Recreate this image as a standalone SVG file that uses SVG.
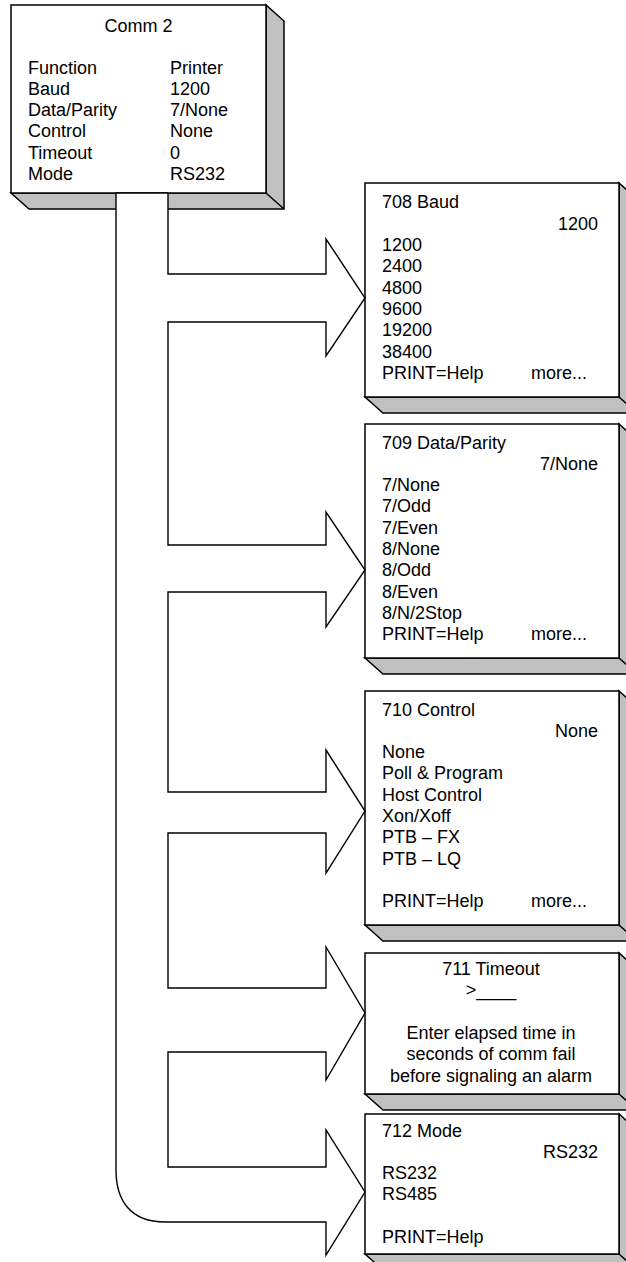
<svg xmlns="http://www.w3.org/2000/svg" width="626" height="1262" viewBox="0 0 626 1262">
<style>
.face{fill:#fff;stroke:#000;stroke-width:1.5}
.shade{fill:#c0c0c0;stroke:#000;stroke-width:1.5;stroke-linejoin:miter}
.edge{stroke:#000;stroke-width:1.5;fill:none}
.conn{fill:#fff;stroke:#000;stroke-width:1.4;stroke-linejoin:miter}
text{font-family:"Liberation Sans",Arial,Helvetica,sans-serif;font-size:18px;fill:#000}
.r{text-anchor:end}
.c{text-anchor:middle}
</style>
<g id="comm2">
<polygon class="shade" points="11,193 266,193 266,5 284,21 284,209 29,209"/>
<line class="edge" x1="266" y1="193" x2="284" y2="209"/>
<rect class="face" x="11" y="5" width="255" height="188"/>
<text class="c" x="138.5" y="31.5">Comm 2</text>
<text x="28" y="73.5">Function</text><text x="170" y="73.5">Printer</text>
<text x="28" y="94.8">Baud</text><text x="170" y="94.8">1200</text>
<text x="28" y="116.1">Data/Parity</text><text x="170" y="116.1">7/None</text>
<text x="28" y="137.4">Control</text><text x="170" y="137.4">None</text>
<text x="28" y="158.7">Timeout</text><text x="170" y="158.7">0</text>
<text x="28" y="180">Mode</text><text x="170" y="180">RS232</text>
</g>
<g id="baud708">
<polygon class="shade" points="365,397 619,397 619,183 637,199 637,413 383,413"/>
<line class="edge" x1="619" y1="397" x2="637" y2="413"/>
<rect class="face" x="365" y="183" width="254" height="214"/>
<text x="382" y="208">708 Baud</text>
<text class="r" x="598" y="229.5">1200</text>
<text x="382" y="251">1200</text>
<text x="382" y="272.3">2400</text>
<text x="382" y="293.6">4800</text>
<text x="382" y="314.9">9600</text>
<text x="382" y="336.2">19200</text>
<text x="382" y="357.5">38400</text>
<text x="382" y="378.8">PRINT=Help</text><text x="531" y="378.8">more...</text>
</g>
<g id="parity709">
<polygon class="shade" points="365,658 619,658 619,424 637,440 637,674 383,674"/>
<line class="edge" x1="619" y1="658" x2="637" y2="674"/>
<rect class="face" x="365" y="424" width="254" height="234"/>
<text x="382" y="448.5">709 Data/Parity</text>
<text class="r" x="598" y="469.8">7/None</text>
<text x="382" y="491.1">7/None</text>
<text x="382" y="512.4">7/Odd</text>
<text x="382" y="533.7">7/Even</text>
<text x="382" y="555">8/None</text>
<text x="382" y="576.3">8/Odd</text>
<text x="382" y="597.6">8/Even</text>
<text x="382" y="618.9">8/N/2Stop</text>
<text x="382" y="640.2">PRINT=Help</text><text x="531" y="640.2">more...</text>
</g>
<g id="control710">
<polygon class="shade" points="365,925 619,925 619,691 637,707 637,941 383,941"/>
<line class="edge" x1="619" y1="925" x2="637" y2="941"/>
<rect class="face" x="365" y="691" width="254" height="234"/>
<text x="382" y="715.5">710 Control</text>
<text class="r" x="598" y="736.8">None</text>
<text x="382" y="758.1">None</text>
<text x="382" y="779.4">Poll &amp; Program</text>
<text x="382" y="800.7">Host Control</text>
<text x="382" y="822">Xon/Xoff</text>
<text x="382" y="843.3">PTB – FX</text>
<text x="382" y="864.6">PTB – LQ</text>
<text x="382" y="907.2">PRINT=Help</text><text x="531" y="907.2">more...</text>
</g>
<g id="timeout711">
<polygon class="shade" points="365,1094 619,1094 619,953 637,969 637,1110 383,1110"/>
<line class="edge" x1="619" y1="1094" x2="637" y2="1110"/>
<rect class="face" x="365" y="953" width="254" height="141"/>
<text class="c" x="491" y="974.5">711 Timeout</text>
<text class="c" x="491" y="996">&gt;____</text>
<text class="c" x="491" y="1038.5">Enter elapsed time in</text>
<text class="c" x="491" y="1060">seconds of comm fail</text>
<text class="c" x="491" y="1081.5">before signaling an alarm</text>
</g>
<g id="mode712">
<polygon class="shade" points="365,1254 619,1254 619,1114 637,1130 637,1270 383,1270"/>
<line class="edge" x1="619" y1="1254" x2="637" y2="1270"/>
<rect class="face" x="365" y="1114" width="254" height="140"/>
<text x="382" y="1136.5">712 Mode</text>
<text class="r" x="598" y="1157.8">RS232</text>
<text x="382" y="1179.1">RS232</text>
<text x="382" y="1200.4">RS485</text>
<text x="382" y="1243">PRINT=Help</text>
</g>
<g id="connectors">
<path class="conn" d="M116,193 L168,193 L168,274 L326,274 L326,239 L365,298 L326,356 L326,322 L168,322 L168,545 L326,545 L326,512 L365,570 L326,627 L326,592 L168,592 L168,792 L326,792 L326,750 L365,811 L326,873 L326,833 L168,833 L168,988 L326,988 L326,947 L365,1013 L326,1080 L326,1052 L168,1052 L168,1167 L326,1167 L326,1130 L365,1192 L326,1255 L326,1222 L165,1222 C130,1222 116,1200 116,1170 Z"/>
</g>
</svg>
